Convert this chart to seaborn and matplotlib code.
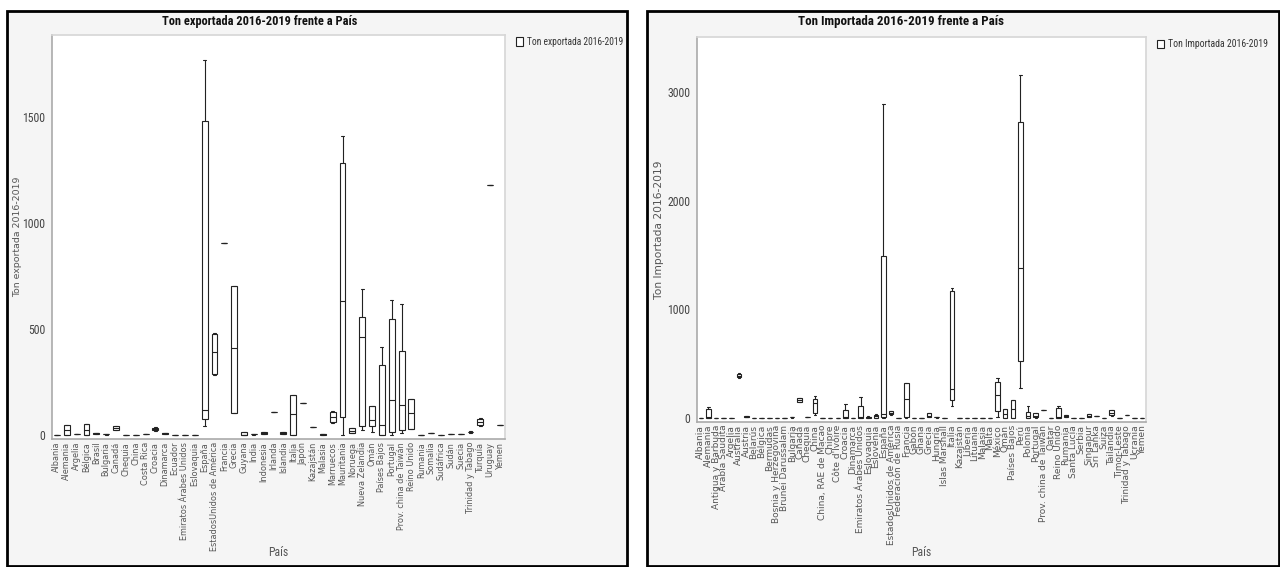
"""
Boxplots Ton exportada / Ton importada 2016-2019 frente a Pais
"""

import pandas as pd
import matplotlib.pyplot as plt
from matplotlib import font_manager as fm
from matplotlib.patches import Rectangle
from matplotlib.ticker import MultipleLocator
import seaborn as sns

# ---- exportaciones: resumen de cinco numeros por pais ----
exp_paises = ["Albania", "Alemania", "Argelia", "Bélgica", "Brasil", "Bulgaria", "Canadá",
              "Chequia", "China", "Costa Rica", "Croacia", "Dinamarca", "Ecuador",
              "Emiratos Árabes Unidos", "Eslovaquia", "España", "EstadosUnidos de América",
              "Francia", "Grecia", "Guyana", "India", "Indonesia", "Irlanda", "Islandia",
              "Italia", "Japón", "Kazajstán", "Malasia", "Marruecos", "Mauritania", "Noruega",
              "Nueva Zelandia", "Omán", "Países Bajos", "Portugal", "Prov. china de Taiwán",
              "Reino Unido", "Rumania", "Somalia", "Sudáfrica", "Sudán", "Suecia",
              "Trinidad y Tabago", "Turquía", "Uruguay", "Yemen"]
exp_min = [2, 0, 3, 0, 5, 2, 22, 1, 1, 5, 20, 3, 1, 1, 1, 40, 285, 905, 104, 0, 2, 4, 110, 4,
           0, 150, 38, 1, 57, 0, 8, 25, 15, 0, 0, 10, 28, 1, 10, 2, 3, 4, 10, 43, 1180, 47]
exp_q1 = [2, 2, 3, 2, 6, 3, 25, 1, 1, 5, 22, 5, 1, 1, 1, 76, 290, 905, 104, 0, 3, 6, 110, 6,
          0, 150, 38, 2, 60, 87, 10, 40, 43, 2, 14, 24, 28, 1, 10, 2, 3, 4, 12, 48, 1180, 47]
exp_med = [2, 22, 3, 25, 8, 5, 32, 1, 1, 5, 28, 7, 1, 1, 1, 118, 393, 905, 411, 2, 5, 9, 110, 9,
           100, 150, 38, 4, 85, 630, 20, 464, 70, 47, 165, 141, 104, 1, 10, 2, 3, 4, 14, 60, 1180, 47]
exp_q3 = [2, 45, 3, 50, 9, 6, 40, 1, 1, 5, 34, 9, 1, 1, 1, 1480, 478, 905, 705, 15, 6, 12, 110, 12,
          190, 150, 38, 6, 110, 1282, 33, 558, 137, 331, 548, 398, 170, 1, 10, 2, 3, 4, 16, 75, 1180, 47]
exp_max = [2, 45, 3, 50, 10, 6, 42, 1, 1, 5, 36, 10, 1, 1, 1, 1770, 480, 905, 705, 15, 6, 12, 110, 12,
           190, 150, 38, 6, 113, 1410, 35, 690, 137, 416, 638, 619, 170, 1, 10, 2, 3, 4, 17, 80, 1180, 47]

# ---- importaciones ----
imp_paises = ["Albania", "Alemania", "Antigua y Barbuda", "Arabia Saudita", "Argelia", "Australia",
              "Austria", "Belarús", "Bélgica", "Bermudas", "Bosnia y Herzegovina",
              "Brunei Darussalam", "Bulgaria", "Canadá", "Chequia", "China", "China, RAE de Macao",
              "Chipre", "Côte d'Ivoire", "Croacia", "Dinamarca", "Emiratos Árabes Unidos",
              "Eslovaquia", "Eslovenia", "España", "EstadosUnidos de América",
              "Federación de Rusia", "Francia", "Gabón", "Ghana", "Grecia", "Hungría",
              "Islas Marshall", "Italia", "Kazajstán", "Liberia", "Lituania", "Malasia", "Malta",
              "México", "Omán", "Países Bajos", "Perú", "Polonia", "Portugal",
              "Prov. china de Taiwán", "Qatar", "Reino Unido", "Rumania", "Santa Lucía", "Serbia",
              "Singapur", "Sri Lanka", "Suiza", "Tailandia", "Timor-Leste", "Trinidad y Tabago",
              "Ucrania", "Yemen"]
imp_min = [2, 0, 1, 3, 4, 367, 5, 1, 4, 1, 1, 1, 3, 145, 8, 28, 1, 1, 1, 0, 1, 0, 2, 0, 0, 28, 1, 0,
           1, 1, 5, 3, 1, 110, 1, 1, 1, 1, 1, 10, 0, 0, 275, 0, 2, 73, 1, 0, 5, 1, 1, 5, 20, 1, 18,
           1, 30, 3, 2]
imp_q1 = [2, 0, 1, 3, 4, 375, 8, 1, 4, 1, 1, 1, 5, 150, 8, 46, 1, 1, 1, 0, 1, 0, 4, 2, 10, 35, 1, 10,
          1, 1, 10, 5, 1, 165, 1, 1, 1, 1, 1, 60, 2, 0, 523, 3, 8, 73, 1, 0, 8, 1, 1, 10, 20, 1, 25,
          1, 30, 3, 2]
imp_med = [2, 10, 1, 3, 4, 390, 12, 1, 4, 1, 1, 1, 8, 165, 8, 138, 1, 1, 1, 5, 1, 10, 8, 15, 40, 50,
           1, 174, 1, 1, 20, 8, 1, 266, 1, 1, 1, 1, 1, 211, 40, 83, 1376, 20, 20, 73, 1, 10, 15, 1, 1,
           20, 20, 1, 45, 1, 30, 3, 2]
imp_q3 = [2, 82, 1, 3, 4, 405, 18, 1, 4, 1, 1, 1, 10, 180, 8, 175, 1, 1, 1, 73, 1, 110, 12, 30,
          1490, 62, 1, 320, 1, 1, 45, 10, 1, 1168, 1, 1, 1, 1, 1, 330, 80, 165, 2723, 55, 42, 73, 1,
          95, 25, 1, 1, 33, 20, 1, 70, 1, 30, 3, 2]
imp_max = [2, 100, 1, 3, 4, 412, 20, 1, 4, 1, 1, 1, 10, 182, 8, 200, 1, 1, 1, 128, 1, 193, 14, 40,
           2885, 67, 1, 320, 1, 1, 50, 10, 1, 1196, 1, 1, 1, 1, 1, 367, 80, 165, 3155, 110, 46, 73,
           1, 110, 28, 1, 1, 36, 20, 1, 73, 1, 30, 3, 2]


def armar(paises, mins, q1s, meds, q3s, maxs, serie):
    # cinco puntos por pais -> cuartiles exactos con whis=(0, 100)
    filas = []
    for p, a, b, c, d, e in zip(paises, mins, q1s, meds, q3s, maxs):
        for v in (a, b, c, d, e):
            filas.append({"Pais": p, "valor": v, "serie": serie})
    return pd.DataFrame(filas)


def fuente_estrecha():
    # buscar una fuente condensada instalada; si no hay, Liberation Sans
    nombres = {f.name for f in fm.fontManager.ttflist}
    for n in ["Liberation Sans Narrow", "Roboto Condensed", "Open Sans Condensed"]:
        if n in nombres:
            return dict(family=n)
    for f in fm.fontManager.ttflist:
        if f.name == "DejaVu Sans" and "ondensed" in str(f.stretch) + f.fname:
            return dict(family="DejaVu Sans", stretch="condensed")
    return dict(family="Liberation Sans")


sns.set_style("white")
plt.rcParams["font.family"] = ["DejaVu Sans"]
narrow = fuente_estrecha()

W, H = 1280, 567
fig = plt.figure(figsize=(12.8, 5.67), dpi=100)
fig.patch.set_facecolor("white")

# marcos de los dos paneles (pixeles -> fraccion de figura)
for x0, x1 in [(7, 627), (647, 1279)]:
    fig.patches.append(Rectangle((x0 / W, 1 - 566 / H), (x1 - x0) / W, (566 - 11) / H,
                                 transform=fig.transFigure, facecolor="#f5f5f5",
                                 edgecolor="black", linewidth=2, zorder=-10))

# anchos objetivo (px) medidos en la referencia
paneles = [
    dict(df=armar(exp_paises, exp_min, exp_q1, exp_med, exp_q3, exp_max, "Ton exportada 2016-2019"),
         orden=exp_paises, rect=(52, 35, 505, 439), ylim=(-19, 1887), major=500, minor=250,
         titulo="Ton exportada 2016-2019 frente a País", tx=260, ylx=22,
         w_tit=195, w_leg=97, w_ylab=120, w_xtick=110),
    dict(df=armar(imp_paises, imp_min, imp_q1, imp_med, imp_q3, imp_max, "Ton Importada 2016-2019"),
         orden=imp_paises, rect=(697, 37, 1146, 422), ylim=(-37, 3505), major=1000, minor=500,
         titulo="Ton Importada 2016-2019 frente a País", tx=901, ylx=664,
         w_tit=205, w_leg=100, w_ylab=138, w_xtick=121),
]

arts = []
for pn in paneles:
    x0, y0, x1, y1 = pn["rect"]
    ax = fig.add_axes([x0 / W, 1 - y1 / H, (x1 - x0) / W, (y1 - y0) / H])
    ax.set_facecolor("white")
    serie = pn["df"]["serie"].iloc[0]

    sns.boxplot(data=pn["df"], x="Pais", y="valor", hue="serie", order=pn["orden"],
                palette=["white"], linecolor="#222222", linewidth=0.8, width=0.6,
                whis=(0, 100), fliersize=0, ax=ax)

    ax.set_ylim(*pn["ylim"])
    ax.set_xlim(-0.5, len(pn["orden"]) - 0.5)
    ax.yaxis.set_major_locator(MultipleLocator(pn["major"]))
    ax.yaxis.set_minor_locator(MultipleLocator(pn["minor"]))
    ax.tick_params(axis="y", which="major", length=4, width=0.7, color="#888888",
                   labelcolor="#444444", pad=1)
    ax.tick_params(axis="y", which="minor", length=2, width=0.7, color="#888888")
    ax.tick_params(axis="x", length=0, pad=2)
    ax.set_xticks(range(len(pn["orden"])))
    ax.set_xticklabels(pn["orden"], rotation=90, fontsize=6, color="#555555",
                       family="DejaVu Sans")
    for lab in ax.get_yticklabels():
        lab.set_fontproperties(fm.FontProperties(size=8.5, **narrow))

    for s in ["top", "right"]:
        ax.spines[s].set_color("#d6d6d6")
    for s in ["left", "bottom"]:
        ax.spines[s].set_color("#aaaaaa")
    for s in ax.spines.values():
        s.set_linewidth(1.2)

    ax.set_ylabel(serie, fontsize=7.5, color="#555555")
    ax.yaxis.set_label_coords((pn["ylx"] - x0) / (x1 - x0), 0.5)
    ax.set_xlabel("País", color="#555555", fontproperties=fm.FontProperties(size=8.5, **narrow))
    ax.xaxis.set_label_coords(0.5, -(H - 8 - y1) / (y1 - y0))
    ax.xaxis.label.set_va("bottom")

    sns.move_legend(ax, "upper left", bbox_to_anchor=(1.015, 1.005), frameon=False,
                    title=None, handlelength=0.8, handleheight=0.9,
                    handletextpad=0.4, borderaxespad=0,
                    prop=fm.FontProperties(size=7, **narrow))
    leg_txt = ax.get_legend().get_texts()[0]
    leg_txt.set_color("#333333")

    tit = fig.text(pn["tx"] / W, 1 - 22 / H, pn["titulo"], ha="center", va="center",
                   color="#111111", fontproperties=fm.FontProperties(size=9, weight="bold", **narrow))
    arts.append((pn, ax, tit, leg_txt))

# ajustar tamanos de letra a los anchos medidos en la referencia
fig.canvas.draw()
r = fig.canvas.get_renderer()


def ajustar(t, ancho, vertical=False):
    bb = t.get_window_extent(r)
    actual = bb.height if vertical else bb.width
    if actual > 0:
        t.set_fontsize(t.get_fontsize() * ancho / actual)


for pn, ax, tit, leg_txt in arts:
    ajustar(tit, pn["w_tit"])
    ajustar(leg_txt, pn["w_leg"])
    ajustar(ax.yaxis.label, pn["w_ylab"], vertical=True)
    etiquetas = ax.get_xticklabels()
    largo = max(t.get_window_extent(r).height for t in etiquetas)
    f = pn["w_xtick"] / largo
    for t in etiquetas:
        t.set_fontsize(t.get_fontsize() * f)

fig.savefig("out.png", dpi=100)
